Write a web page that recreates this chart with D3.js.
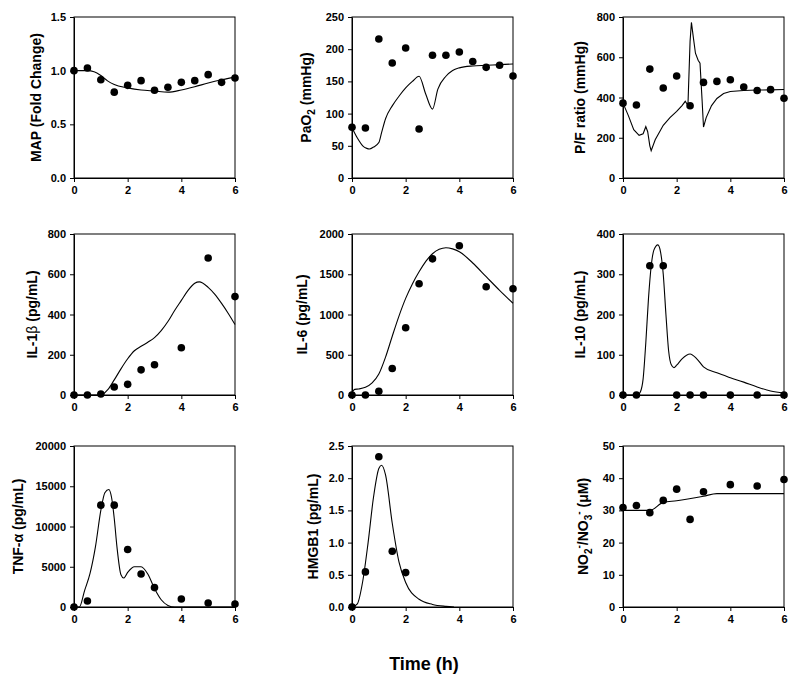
<!DOCTYPE html>
<html><head><meta charset="utf-8">
<script src="https://cdn.jsdelivr.net/npm/d3@7"></script>
<style>
body{margin:0;background:#fff;}
svg{display:block;}
text{font-family:Arial,"Liberation Sans",sans-serif;font-weight:bold;fill:#000;}
</style></head>
<body>
<svg id="chart" width="799" height="687"></svg>
<script>
// ---------- DATA ----------
const obsTimesHalf = [0,0.5,1,1.5,2,2.5,3,3.5,4,4.5,5,5.5,6];
const obsTimesCyto = [0,0.5,1,1.5,2,2.5,3,4,5,6];
const obsTimesHmgb = [0,0.5,1,1.5,2];

const mapObs  = [1.0,1.025,0.916,0.80,0.863,0.907,0.817,0.845,0.891,0.907,0.963,0.891,0.932];
const mapModelT = [0,0.5,0.75,1.0,1.25,1.5,2,2.5,3,3.5,4,4.5,5,5.5,6];
const mapModel  = [1.0,1.0,0.99,0.955,0.905,0.87,0.84,0.82,0.81,0.80,0.82,0.85,0.885,0.915,0.94];

const paoObs = [78.7,77.6,215.8,178.6,201.9,76,190.5,190.5,195.7,181,171.8,175,158.4];
const paoModelT = [0,0.2,0.4,0.55,0.65,0.8,1.0,1.1,1.25,1.5,1.75,2.0,2.25,2.5,2.75,3.0,3.2,3.5,3.75,4,4.5,5,5.5,6];
const paoModel  = [78,62,50,46,45,48,55,70,92,112,127,140,150,158,130,107,138,158,167,171,174,175,176,177];

const pfObs = [372,363,541,447,507,359,475,480,488,452,435,439,396];
const pfModelT = [0,0.2,0.4,0.6,0.75,0.85,0.92,1.0,1.05,1.2,1.5,1.75,2.0,2.2,2.32,2.42,2.5,2.55,2.62,2.7,2.8,2.87,2.95,3.0,3.1,3.3,3.5,3.75,4,4.5,5,5.5,6];
const pfModel  = [372,310,240,212,220,255,230,160,136,190,262,300,331,360,381,360,680,773,700,620,585,570,380,253,300,360,395,420,430,435,437,438,440];

const il1bObs = [0,0,5,40,53,125,150,235,681,489];
const il1bModelT = [0,0.5,1.0,1.25,1.5,1.75,2,2.25,2.5,2.75,3,3.25,3.5,3.75,4,4.25,4.5,4.67,5,5.25,5.5,5.75,6];
const il1bModel  = [0,0,0,25,75,130,180,220,242,262,285,320,365,420,470,520,555,562,535,500,455,405,350];

const il6Obs = [0,0,46,330,835,1382,1691,1854,1344,1319];
const il6ModelT = [0,0.1,0.25,0.5,0.75,1.0,1.25,1.5,1.75,2,2.25,2.5,2.75,3,3.25,3.5,3.75,4,4.5,5,5.5,6];
const il6Model  = [30,70,75,95,150,260,470,730,980,1200,1380,1530,1660,1755,1810,1830,1815,1780,1640,1470,1300,1140];

const il10Obs = [0,0,321,321,0,0,0,0,0,0];
const il10ModelT = [0,0.55,0.65,0.75,0.85,0.95,1.05,1.15,1.3,1.4,1.5,1.6,1.7,1.8,1.9,2.0,2.2,2.5,2.75,3,3.5,4,4.5,5,5.5,6];
const il10Model  = [0,0,8,40,130,240,320,360,373,355,300,200,110,75,68,74,90,102,90,70,55,43,32,20,10,5];

const tnfObs = [0,747,12655,12655,7137,4108,2407,996,498,373];
const tnfModelT = [0,0.2,0.4,0.6,0.8,1.0,1.15,1.3,1.4,1.5,1.6,1.75,1.85,2.0,2.25,2.5,2.75,3.0,3.25,3.5,3.75,4,5,6];
const tnfModel  = [0,0,2100,4200,7500,12000,14200,14600,13600,11000,7500,4000,3600,4300,5000,5000,4100,2300,900,200,0,0,0,0];

const hmgbObs = [0,0.545,2.334,0.866,0.534];
const hmgbModelT = [0,0.2,0.4,0.6,0.8,1.0,1.1,1.25,1.5,1.75,2.0,2.5,3.0,3.5,3.8];
const hmgbModel  = [0,0.05,0.4,1.0,1.7,2.15,2.2,2.05,1.3,0.7,0.38,0.12,0.04,0.01,0.0];

const noObs = [30.9,31.5,29.3,33.1,36.6,27.2,35.8,38.0,37.6,39.6];
const noModelT = [0,1.0,1.5,2,3,3.5,4,5,6];
const noModel  = [30,30,32.5,33,34.4,35.2,35.2,35.2,35.2];

const xTicks = [0,2,4,6];
const mapTicks = [0,0.5,1.0,1.5];
const paoTicks = [0,50,100,150,200,250];
const pfTicks = [0,200,400,600,800];
const il1bTicks = [0,200,400,600,800];
const il6Ticks = [0,500,1000,1500,2000];
const il10Ticks = [0,100,200,300,400];
const tnfTicks = [0,5000,10000,15000,20000];
const hmgbTicks = [0,0.5,1.0,1.5,2.0,2.5];
const noTicks = [0,10,20,30,40,50];

// label parts: [text, mode] mode: n normal, sub, sup, plain (non-bold)
const labels = [
  [["MAP (Fold Change)"]],
  [["PaO"],["2","sub"],[" (mmHg)"]],
  [["P/F ratio (mmHg)"]],
  [["IL-1"],["β","plain"],[" (pg/mL)"]],
  [["IL-6 (pg/mL)"]],
  [["IL-10 (pg/mL)"]],
  [["TNF-α (pg/mL)"]],
  [["HMGB1 (pg/mL)"]],
  [["NO"],["2","sub"],["-","sup"],["/NO"],["3","sub"],["-","sup"],[" (μM)"]]
];

// ---------- LAYOUT ----------
const colX = [74, 352, 623];
const rowY = [17, 234, 446];
const W = 161, H = 161;
const labelOffsets = [38, 46, 43, 42, 50, 43, 56, 39, 40];

const panels = [
  {obsT: obsTimesHalf, obs: mapObs, mT: mapModelT, m: mapModel, max: 1.5, ticks: mapTicks, fmt: d3.format(".1f")},
  {obsT: obsTimesHalf, obs: paoObs, mT: paoModelT, m: paoModel, max: 250, ticks: paoTicks, fmt: d3.format("d")},
  {obsT: obsTimesHalf, obs: pfObs, mT: pfModelT, m: pfModel, max: 800, ticks: pfTicks, fmt: d3.format("d"), linear: true},
  {obsT: obsTimesCyto, obs: il1bObs, mT: il1bModelT, m: il1bModel, max: 800, ticks: il1bTicks, fmt: d3.format("d")},
  {obsT: obsTimesCyto, obs: il6Obs, mT: il6ModelT, m: il6Model, max: 2000, ticks: il6Ticks, fmt: d3.format("d")},
  {obsT: obsTimesCyto, obs: il10Obs, mT: il10ModelT, m: il10Model, max: 400, ticks: il10Ticks, fmt: d3.format("d")},
  {obsT: obsTimesCyto, obs: tnfObs, mT: tnfModelT, m: tnfModel, max: 20000, ticks: tnfTicks, fmt: d3.format("d")},
  {obsT: obsTimesHmgb, obs: hmgbObs, mT: hmgbModelT, m: hmgbModel, max: 2.5, ticks: hmgbTicks, fmt: d3.format(".1f")},
  {obsT: obsTimesCyto, obs: noObs, mT: noModelT, m: noModel, max: 50, ticks: noTicks, fmt: d3.format("d")}
];

const svg = d3.select("#chart");

panels.forEach((p, i) => {
  const col = i % 3, row = Math.floor(i / 3);
  const g = svg.append("g").attr("transform", `translate(${colX[col]},${rowY[row]})`);
  const x = d3.scaleLinear().domain([0, 6]).range([0, W]);
  const y = d3.scaleLinear().domain([0, p.max]).range([H, 0]);

  // frame
  g.append("rect").attr("x", 0).attr("y", 0).attr("width", W).attr("height", H)
    .attr("fill", "none").attr("stroke", "#000").attr("stroke-width", 1);

  const xa = g.append("g").attr("transform", `translate(0,${H})`)
    .call(d3.axisBottom(x).tickValues(xTicks).tickFormat(d3.format("d")).tickSizeOuter(0).tickSizeInner(4).tickPadding(4));
  const ya = g.append("g")
    .call(d3.axisLeft(y).tickValues(p.ticks).tickFormat(p.fmt).tickSizeOuter(0).tickSizeInner(4).tickPadding(4));
  [xa, ya].forEach(a => {
    a.select(".domain").attr("stroke", "#000");
    a.selectAll("line").attr("stroke", "#000");
    a.selectAll("text").attr("font-size", 11).attr("font-weight", "bold")
      .attr("font-family", "Arial, 'Liberation Sans', sans-serif").attr("fill", "#000");
  });

  // model line
  const lineData = p.mT.map((t, k) => [t, p.m[k]]);
  g.append("path").datum(lineData)
    .attr("fill", "none").attr("stroke", "#000").attr("stroke-width", 1.1)
    .attr("d", d3.line().x(d => x(d[0])).y(d => y(d[1]))
      .curve(p.linear ? d3.curveLinear : d3.curveMonotoneX));

  // observed points
  g.selectAll("circle.obs").data(p.obsT.map((t, k) => [t, p.obs[k]]))
    .enter().append("circle").attr("class", "obs")
    .attr("cx", d => x(d[0])).attr("cy", d => y(d[1])).attr("r", 3.8).attr("fill", "#000");

  // y label
  const lx = -labelOffsets[i];
  const t = g.append("text")
    .attr("transform", `translate(${lx},${H / 2}) rotate(-90)`)
    .attr("text-anchor", "middle").attr("dy", "0.35em").attr("font-size", 14);
  let shift = 0;
  labels[i].forEach(([txt, mode]) => {
    const ts = t.append("tspan").text(txt);
    let target = 0;
    if (mode === "sub") { target = 4; ts.attr("font-size", 10); }
    else if (mode === "sup") { target = -6; ts.attr("font-size", 10); }
    else if (mode === "plain") { ts.attr("font-weight", "normal"); }
    // handle consecutive sub->sup
    if (target !== shift) { ts.attr("dy", target - shift); shift = target; }
  });
});

svg.append("text").attr("x", 424).attr("y", 670).attr("text-anchor", "middle")
  .attr("font-size", 18).text("Time (h)");
</script>
</body></html>
